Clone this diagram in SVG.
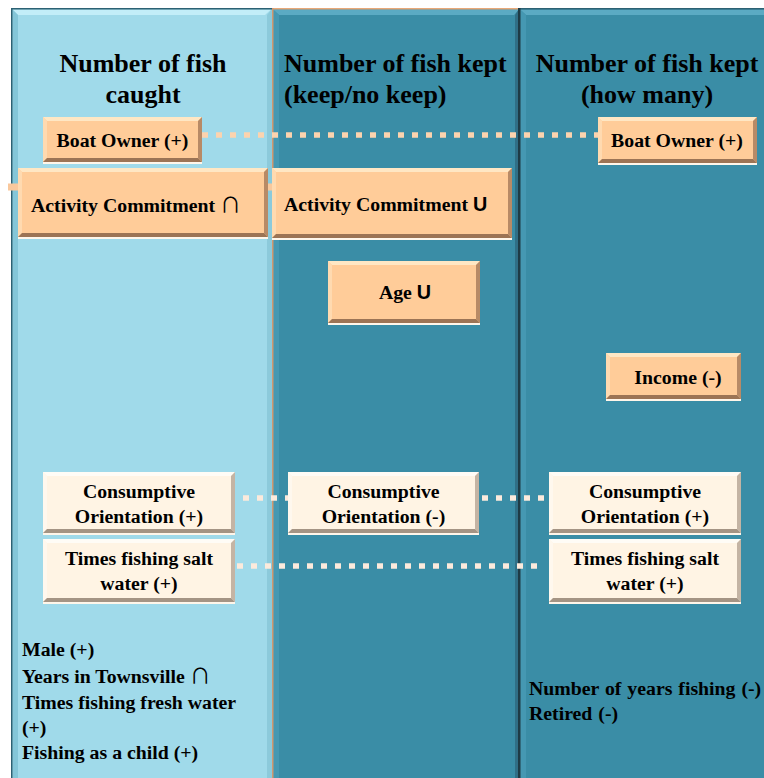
<svg xmlns="http://www.w3.org/2000/svg" width="764" height="778" viewBox="0 0 764 778">
<style>
.hd{font-family:"Liberation Serif","Times New Roman",serif;font-weight:bold;font-size:26px;fill:#000}
.bt{font-family:"Liberation Serif","Times New Roman",serif;font-weight:bold;font-size:19.8px;fill:#000}
.sym{font-family:"Noto Sans CJK JP","DejaVu Sans",sans-serif;font-weight:normal;font-size:21px}
.usym{font-family:"Liberation Sans",Arial,sans-serif;font-weight:bold}
.pk{fill:#FFCC99}.pkT{fill:#FFE7C4}.pkL{fill:#FFDAB0}.pkR{fill:#B88A66}.pkB{fill:#9C7455}
.cr{fill:#FFF4E4}.crT{fill:#FFFCF6}.crL{fill:#FFF8EE}.crR{fill:#C4B4A4}.crB{fill:#A49484}
.ul{fill:#FFF6EA}
.dotP{stroke:#FCD3AE;stroke-width:5.5;stroke-dasharray:6 8;fill:none}
.dotC{stroke:#FCEADC;stroke-width:5.5;stroke-dasharray:6 8;fill:none}
</style>
<rect width="764" height="778" fill="#FFFFFF"/>
<g id="columns">
  <rect x="11" y="8" width="262" height="770" fill="#A0DAEA"/>
  <polygon points="12.5,9.5 271,9.5 265,15 18,15" fill="#C2EDF8"/>
  <polygon points="12.5,9.5 18,15 18,778 12.5,778" fill="#84C6D8"/>
  <polygon points="272,9 267,15 267,778 272,778" fill="#8CCADB"/>
  <rect x="11" y="8" width="1.5" height="770" fill="#2D6173"/>
  <rect x="11" y="8" width="261" height="1.5" fill="#2D6173"/>
  <rect x="273" y="8" width="246" height="770" fill="#3A8DA6"/>
  <polygon points="273,9.5 519,9.5 514,15 279,15" fill="#5BAAC3"/>
  <polygon points="273,9.5 279,15 279,778 273,778" fill="#4598B2"/>
  <polygon points="519,9 515,15 515,778 519,778" fill="#306F86"/>
  <rect x="272" y="8" width="248" height="1.5" fill="#E8A878"/>
  <rect x="272" y="8" width="1.5" height="770" fill="#D09870"/>
  <rect x="520" y="8" width="244" height="770" fill="#3A8DA6"/>
  <polygon points="520,9.5 764,9.5 764,15 526,15" fill="#5BAAC3"/>
  <polygon points="520,9.5 526,15 526,778 520,778" fill="#4598B2"/>
  <rect x="520" y="8" width="244" height="1.5" fill="#2D6173"/>
  <rect x="518" y="8" width="2.5" height="770" fill="#1E3B45"/>
</g>
<g id="headers">
  <text class="hd" x="143" y="72" text-anchor="middle">Number of fish</text>
  <text class="hd" x="143" y="103" text-anchor="middle">caught</text>
  <text class="hd" x="284" y="72">Number of fish kept</text>
  <text class="hd" x="284" y="103">(keep/no keep)</text>
  <text class="hd" x="647" y="72" text-anchor="middle">Number of fish kept</text>
  <text class="hd" x="647" y="103" text-anchor="middle">(how many)</text>
</g>
<g id="connectors">
  <line x1="8" y1="187" x2="277" y2="187" stroke="#F9C89C" stroke-width="7"/>
  <line class="dotP" x1="202" y1="135" x2="598" y2="135"/>
  <line class="dotC" x1="229" y1="498" x2="288" y2="498"/>
  <line class="dotC" x1="482" y1="498" x2="549" y2="498"/>
  <line class="dotC" x1="237" y1="566" x2="545" y2="566"/>
</g>
<g id="boat-owner-caught">
  <rect class="ul" x="43" y="162" width="159" height="2"/>
  <rect class="pk" x="43" y="117" width="159" height="45"/>
  <polygon class="pkT" points="43,117 202,117 198,121 47,121"/>
  <polygon class="pkL" points="43,117 47,121 47,158 43,162"/>
  <polygon class="pkR" points="202,117 202,162 198,158 198,121"/>
  <polygon class="pkB" points="43,162 202,162 198,158 47,158"/>
  <text class="bt" x="122.5" y="147" text-anchor="middle">Boat Owner (+)</text>
</g>
<g id="activity-caught">
  <rect class="ul" x="18" y="237" width="250" height="2"/>
  <rect class="pk" x="18" y="168" width="250" height="69"/>
  <polygon class="pkT" points="18,168 268,168 264,172 22,172"/>
  <polygon class="pkL" points="18,168 22,172 22,233 18,237"/>
  <polygon class="pkR" points="268,168 268,237 264,233 264,172"/>
  <polygon class="pkB" points="18,237 268,237 264,233 22,233"/>
  <text class="bt" x="31" y="212">Activity Commitment <tspan class="sym">∩</tspan></text>
</g>
<g id="activity-kept">
  <rect class="ul" x="272" y="238" width="240" height="2"/>
  <rect class="pk" x="272" y="168" width="240" height="70"/>
  <polygon class="pkT" points="272,168 512,168 508,172 276,172"/>
  <polygon class="pkL" points="272,168 276,172 276,234 272,238"/>
  <polygon class="pkR" points="512,168 512,238 508,234 508,172"/>
  <polygon class="pkB" points="272,238 512,238 508,234 276,234"/>
  <text class="bt" x="284" y="211">Activity Commitment <tspan class="usym">U</tspan></text>
</g>
<g id="boat-owner-howmany">
  <rect class="ul" x="598" y="163" width="159" height="2"/>
  <rect class="pk" x="598" y="117" width="159" height="46"/>
  <polygon class="pkT" points="598,117 757,117 753,121 602,121"/>
  <polygon class="pkL" points="598,117 602,121 602,159 598,163"/>
  <polygon class="pkR" points="757,117 757,163 753,159 753,121"/>
  <polygon class="pkB" points="598,163 757,163 753,159 602,159"/>
  <text class="bt" x="677" y="147" text-anchor="middle">Boat Owner (+)</text>
</g>
<g id="age">
  <rect class="ul" x="328" y="323" width="152" height="2"/>
  <rect class="pk" x="328" y="261" width="152" height="62"/>
  <polygon class="pkT" points="328,261 480,261 476,265 332,265"/>
  <polygon class="pkL" points="328,261 332,265 332,319 328,323"/>
  <polygon class="pkR" points="480,261 480,323 476,319 476,265"/>
  <polygon class="pkB" points="328,323 480,323 476,319 332,319"/>
  <text class="bt" x="405" y="299" text-anchor="middle">Age <tspan class="usym">U</tspan></text>
</g>
<g id="income">
  <rect class="ul" x="606" y="399" width="135" height="2"/>
  <rect class="pk" x="606" y="353" width="135" height="46"/>
  <polygon class="pkT" points="606,353 741,353 737,357 610,357"/>
  <polygon class="pkL" points="606,353 610,357 610,395 606,399"/>
  <polygon class="pkR" points="741,353 741,399 737,395 737,357"/>
  <polygon class="pkB" points="606,399 741,399 737,395 610,395"/>
  <text class="bt" x="678" y="384" text-anchor="middle">Income (-)</text>
</g>
<g id="consumptive-caught">
  <rect class="ul" x="43" y="533" width="192" height="2"/>
  <rect class="cr" x="43" y="472" width="192" height="61"/>
  <polygon class="crT" points="43,472 235,472 231,476 47,476"/>
  <polygon class="crL" points="43,472 47,476 47,529 43,533"/>
  <polygon class="crR" points="235,472 235,533 231,529 231,476"/>
  <polygon class="crB" points="43,533 235,533 231,529 47,529"/>
  <text class="bt" x="139" y="498" text-anchor="middle">Consumptive</text>
  <text class="bt" x="139" y="523" text-anchor="middle">Orientation (+)</text>
</g>
<g id="times-salt-caught">
  <rect class="ul" x="43" y="602" width="192" height="2"/>
  <rect class="cr" x="43" y="539" width="192" height="63"/>
  <polygon class="crT" points="43,539 235,539 231,543 47,543"/>
  <polygon class="crL" points="43,539 47,543 47,598 43,602"/>
  <polygon class="crR" points="235,539 235,602 231,598 231,543"/>
  <polygon class="crB" points="43,602 235,602 231,598 47,598"/>
  <text class="bt" x="139" y="565" text-anchor="middle">Times fishing salt</text>
  <text class="bt" x="139" y="590" text-anchor="middle">water (+)</text>
</g>
<g id="consumptive-kept">
  <rect class="ul" x="288" y="533" width="191" height="2"/>
  <rect class="cr" x="288" y="472" width="191" height="61"/>
  <polygon class="crT" points="288,472 479,472 475,476 292,476"/>
  <polygon class="crL" points="288,472 292,476 292,529 288,533"/>
  <polygon class="crR" points="479,472 479,533 475,529 475,476"/>
  <polygon class="crB" points="288,533 479,533 475,529 292,529"/>
  <text class="bt" x="383.5" y="498" text-anchor="middle">Consumptive</text>
  <text class="bt" x="383.5" y="523" text-anchor="middle">Orientation (-)</text>
</g>
<g id="consumptive-howmany">
  <rect class="ul" x="549" y="533" width="192" height="2"/>
  <rect class="cr" x="549" y="472" width="192" height="61"/>
  <polygon class="crT" points="549,472 741,472 737,476 553,476"/>
  <polygon class="crL" points="549,472 553,476 553,529 549,533"/>
  <polygon class="crR" points="741,472 741,533 737,529 737,476"/>
  <polygon class="crB" points="549,533 741,533 737,529 553,529"/>
  <text class="bt" x="645" y="498" text-anchor="middle">Consumptive</text>
  <text class="bt" x="645" y="523" text-anchor="middle">Orientation (+)</text>
</g>
<g id="times-salt-howmany">
  <rect class="ul" x="549" y="602" width="192" height="2"/>
  <rect class="cr" x="549" y="539" width="192" height="63"/>
  <polygon class="crT" points="549,539 741,539 737,543 553,543"/>
  <polygon class="crL" points="549,539 553,543 553,598 549,602"/>
  <polygon class="crR" points="741,539 741,602 737,598 737,543"/>
  <polygon class="crB" points="549,602 741,602 737,598 553,598"/>
  <text class="bt" x="645" y="565" text-anchor="middle">Times fishing salt</text>
  <text class="bt" x="645" y="590" text-anchor="middle">water (+)</text>
</g>
<g id="caught-list">
  <text class="bt" x="22" y="656">Male (+)</text>
  <text class="bt" x="22" y="683">Years in Townsville <tspan class="sym">∩</tspan></text>
  <text class="bt" x="22" y="709">Times fishing fresh water</text>
  <text class="bt" x="22" y="734">(+)</text>
  <text class="bt" x="22" y="759">Fishing as a child (+)</text>
</g>
<g id="howmany-list">
  <text class="bt" x="529" y="695" word-spacing="1">Number of years fishing (-)</text>
  <text class="bt" x="529" y="720" word-spacing="1">Retired (-)</text>
</g>
</svg>
